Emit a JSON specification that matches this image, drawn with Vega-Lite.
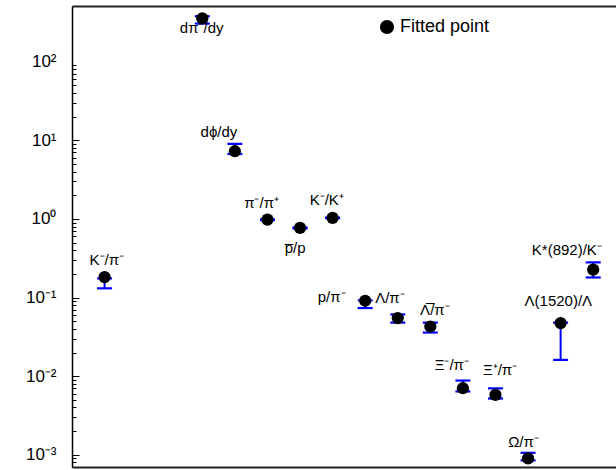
{
  "$schema": "https://vega.github.io/schema/vega-lite/v6.json",
  "width": 544,
  "height": 461,
  "autosize": {"type": "none"},
  "padding": {"left": 72, "top": 6, "right": 0, "bottom": 3},
  "background": "white",
  "config": {"view": {"stroke": null}, "font": "Liberation Sans"},
  "data": {
    "values": [
      {"name": "K⁻/π⁻", "x": 0, "fit": 0.182, "lo": 0.131, "hi": 0.175, "lx": 0.07, "ly": 0.30, "series": "Fitted point"},
      {"name": "dπ⁻/dy", "x": 3, "fit": 356, "lo": 305, "hi": 378, "lx": 2.98, "ly": 268, "series": "Fitted point"},
      {"name": "dϕ/dy", "x": 4, "fit": 7.26, "lo": 6.7, "hi": 9.0, "lx": 3.51, "ly": 12.9, "series": "Fitted point"},
      {"name": "π⁻/π⁺", "x": 5, "fit": 0.98, "lo": 0.965, "hi": 0.99, "lx": 4.82, "ly": 1.58, "series": "Fitted point"},
      {"name": "p̅/p", "x": 6, "fit": 0.768, "lo": 0.755, "hi": 0.78, "lx": 5.85, "ly": 0.426, "series": "Fitted point"},
      {"name": "K⁻/K⁺", "x": 7, "fit": 1.03, "lo": 1.02, "hi": 1.04, "lx": 6.82, "ly": 1.74, "series": "Fitted point"},
      {"name": "p/π⁻", "x": 8, "fit": 0.091, "lo": 0.0735, "hi": 0.092, "lx": 6.97, "ly": 0.1025, "series": "Fitted point"},
      {"name": "Λ/π⁻", "x": 9, "fit": 0.0548, "lo": 0.048, "hi": 0.061, "lx": 8.76, "ly": 0.0977, "series": "Fitted point"},
      {"name": "Λ̅/π⁻", "x": 10, "fit": 0.0428, "lo": 0.0359, "hi": 0.048, "lx": 10.14, "ly": 0.0693, "series": "Fitted point"},
      {"name": "Ξ⁻/π⁻", "x": 11, "fit": 0.00703, "lo": 0.0064, "hi": 0.0088, "lx": 10.66, "ly": 0.01387, "series": "Fitted point"},
      {"name": "Ξ⁺/π⁻", "x": 12, "fit": 0.00578, "lo": 0.0052, "hi": 0.0070, "lx": 12.14, "ly": 0.01197, "series": "Fitted point"},
      {"name": "Ω/π⁻", "x": 13, "fit": 0.000902, "lo": 0.00085, "hi": 0.00106, "lx": 12.86, "ly": 0.001467, "series": "Fitted point"},
      {"name": "Λ(1520)/Λ", "x": 14, "fit": 0.0473, "lo": 0.0161, "hi": 0.048, "lx": 13.93, "ly": 0.0912, "series": "Fitted point"},
      {"name": "K*(892)/K⁻", "x": 15, "fit": 0.226, "lo": 0.18, "hi": 0.28, "lx": 14.19, "ly": 0.402, "series": "Fitted point"}
    ]
  },
  "resolve": {"axis": {"x": "independent"}},
  "layer": [
    {
      "mark": {"type": "rule", "color": "#0000ff", "strokeWidth": 2},
      "encoding": {
        "x": {"field": "x", "type": "quantitative", "title": null,
          "scale": {"domain": [-1, 15.7], "nice": false, "zero": false},
          "axis": {"orient": "bottom", "ticks": false, "labels": false, "grid": false, "domainColor": "#222", "domainWidth": 2}},
        "y": {"field": "lo", "type": "quantitative", "title": null,
          "scale": {"type": "log", "domain": [0.0007, 510], "nice": false},
          "axis": {
            "orient": "left", "grid": false, "domainColor": "black", "domainWidth": 1.5,
            "values": [0.0008, 0.0009, 0.001, 0.002, 0.003, 0.004, 0.005, 0.006, 0.007, 0.008, 0.009, 0.01, 0.02, 0.03, 0.04, 0.05, 0.06, 0.07, 0.08, 0.09, 0.1, 0.2, 0.3, 0.4, 0.5, 0.6, 0.7, 0.8, 0.9, 1, 2, 3, 4, 5, 6, 7, 8, 9, 10, 20, 30, 40, 50, 60, 70, 80, 90, 100],
            "labelExpr": "abs(log(datum.value)/LN10 - round(log(datum.value)/LN10)) < 0.001 ? ['10⁻³','10⁻²','10⁻¹','10⁰','10¹','10²'][round(log(datum.value)/LN10)+3] : ''",
            "labelFont": "Liberation Sans", "labelFontSize": 17, "labelColor": "black",
            "labelPadding": 23, "labelFlush": false, "labelOverlap": false,
            "tickColor": "black", "tickWidth": 1,
            "tickSize": {"condition": {"test": "abs(log(datum.value)/LN10 - round(log(datum.value)/LN10)) < 0.001", "value": -7}, "value": -4},
            "tickOpacity": {"condition": {"test": "datum.value > 95", "value": 0}, "value": 1}
          }},
        "y2": {"field": "hi"}
      }
    },
    {
      "mark": {"type": "tick", "orient": "horizontal", "color": "#0000ff", "size": 15, "thickness": 2.2, "opacity": 1},
      "encoding": {
        "x": {"field": "x", "type": "quantitative", "title": null, "axis": null},
        "y": {"field": "lo", "type": "quantitative", "title": null}
      }
    },
    {
      "mark": {"type": "tick", "orient": "horizontal", "color": "#0000ff", "size": 15, "thickness": 2.2, "opacity": 1},
      "encoding": {
        "x": {"field": "x", "type": "quantitative", "title": null, "axis": null},
        "y": {"field": "hi", "type": "quantitative", "title": null}
      }
    },
    {
      "mark": {"type": "point", "filled": true, "opacity": 1, "size": 150, "shape": "circle"},
      "encoding": {
        "x": {"field": "x", "type": "quantitative", "title": null, "axis": null},
        "y": {"field": "fit", "type": "quantitative", "title": null},
        "color": {"field": "series", "type": "nominal", "scale": {"range": ["black"]},
          "legend": {"title": null, "orient": "none", "legendX": 306, "legendY": 12, "symbolSize": 200, "symbolType": "circle", "labelFontSize": 18, "labelFont": "Liberation Sans", "labelColor": "black", "padding": 0, "labelOffset": 4, "symbolStrokeWidth": 0}}
      }
    },
    {
      "mark": {"type": "text", "fontSize": 15, "font": "Liberation Sans", "color": "black", "baseline": "middle", "align": "center"},
      "encoding": {
        "x": {"field": "lx", "type": "quantitative", "title": null,
          "axis": {"orient": "top", "ticks": false, "labels": false, "grid": false, "domainColor": "#222", "domainWidth": 2}},
        "y": {"field": "ly", "type": "quantitative", "title": null},
        "text": {"field": "name"}
      }
    }
  ]
}
